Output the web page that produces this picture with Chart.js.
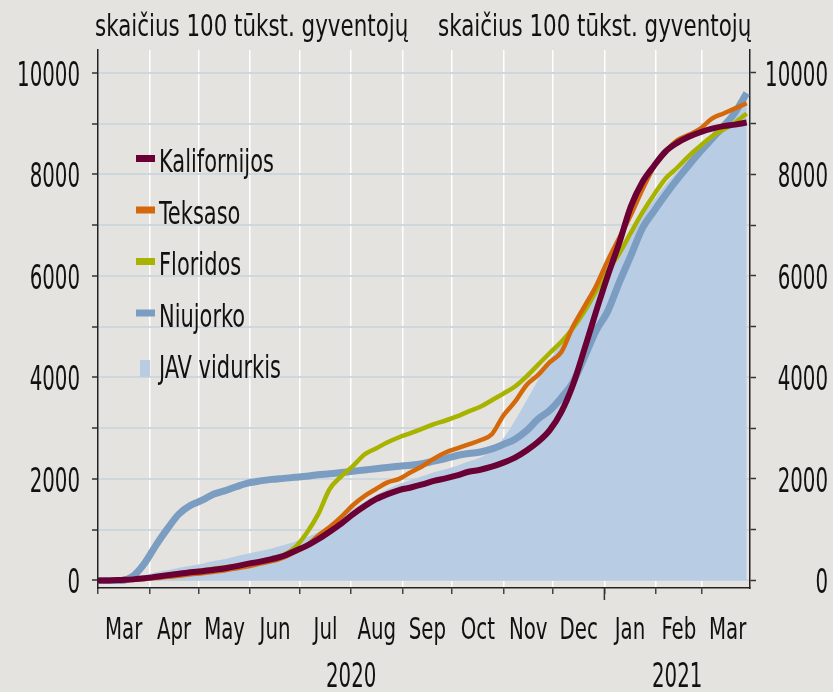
<!DOCTYPE html>
<html>
<head>
<meta charset="utf-8">
<script src="https://cdn.jsdelivr.net/npm/chart.js@4.4.1/dist/chart.umd.min.js"></script>
<style>
  body { margin: 0; background: #e4e3df; }
  canvas { display: block; }
</style>
</head>
<body>
<canvas id="chart" width="833" height="692"></canvas>
<script>
// days since 1 March 2020
const dienos = [0, 7, 14, 21, 28, 35, 42, 49, 56, 63, 70, 77, 84, 91, 98, 105, 112, 119, 126, 133,
  140, 147, 154, 161, 168, 175, 182, 189, 196, 203, 210, 217, 224, 231, 238, 245, 252, 259, 266, 273,
  280, 287, 294, 301, 308, 315, 322, 329, 336, 343, 350, 357, 364, 371, 378, 385, 392];

const kalifornijos = [0, 0, 10, 20, 40, 70, 100, 130, 160, 180, 210, 240, 280, 330, 370, 420, 480, 580, 680, 810,
  960, 1120, 1300, 1460, 1600, 1700, 1780, 1830, 1890, 1960, 2010, 2070, 2140, 2180, 2240, 2320, 2420, 2560, 2730, 2960,
  3320, 3850, 4560, 5300, 6000, 6650, 7370, 7850, 8170, 8450, 8620, 8740, 8830, 8900, 8950, 8980, 9020];
const teksaso = [0, 0, 0, 10, 25, 45, 70, 90, 120, 140, 170, 200, 240, 280, 330, 380, 450, 560, 680, 880,
  1050, 1250, 1480, 1660, 1800, 1930, 2000, 2130, 2250, 2400, 2520, 2600, 2680, 2760, 2880, 3250, 3520, 3850, 4050, 4300,
  4500, 5000, 5400, 5800, 6300, 6750, 7200, 7700, 8150, 8450, 8670, 8780, 8900, 9100, 9200, 9300, 9400];
const floridos = [0, 0, 0, 20, 40, 70, 110, 140, 170, 200, 230, 260, 290, 330, 380, 430, 500, 650, 930, 1300,
  1800, 2050, 2250, 2480, 2600, 2720, 2820, 2900, 2990, 3080, 3150, 3230, 3330, 3420, 3550, 3680, 3820, 4020, 4250, 4480,
  4700, 4970, 5300, 5700, 6100, 6440, 6850, 7250, 7600, 7920, 8130, 8360, 8560, 8750, 8880, 9020, 9200];
const niujorko = [0, 0, 0, 80, 330, 690, 1020, 1310, 1480, 1580, 1700, 1770, 1850, 1920, 1960, 1990, 2010, 2030, 2050, 2080,
  2100, 2125, 2150, 2175, 2200, 2225, 2250, 2270, 2300, 2350, 2400, 2460, 2500, 2530, 2590, 2680, 2780, 2950, 3180, 3350,
  3600, 3900, 4400, 4920, 5300, 5870, 6400, 6940, 7280, 7600, 7900, 8180, 8450, 8700, 8950, 9220, 9600];
const javVidurkis = [0, 0, 0, 40, 100, 160, 200, 250, 290, 330, 380, 420, 480, 530, 580, 630, 690, 760, 850, 950,
  1080, 1250, 1400, 1550, 1680, 1800, 1900, 1980, 2050, 2130, 2190, 2260, 2340, 2420, 2560, 2800, 3150, 3550, 3950, 4350,
  4650, 4950, 5350, 5800, 6150, 6500, 6850, 7200, 7500, 7800, 8050, 8300, 8550, 8800, 9050, 9300, 9550];

const menesiai = ['Mar', 'Apr', 'May', 'Jun', 'Jul', 'Aug', 'Sep', 'Oct', 'Nov', 'Dec', 'Jan', 'Feb', 'Mar'];
const menesiuPradzios = [0, 31, 61, 92, 122, 153, 184, 214, 245, 275, 306, 337, 365];
const menesiuPabaiga = 396;
const metai = ['2020', '2021'];
const metuRibos = [0, 306, 394];
const yZymes = [0, 2000, 4000, 6000, 8000, 10000];
const yTinklas = [0, 1000, 2000, 3000, 4000, 5000, 6000, 7000, 8000, 9000, 10000];
const antraste = 'skaičius 100 tūkst. gyventojų';

const SRIFTAS = '"DejaVu Sans Condensed", "DejaVu Sans", sans-serif';

// text is drawn taller than wide, like in the original
function tekstas(ctx, s, x, y, dydis, sy, lyg) {
  ctx.save();
  ctx.font = dydis + 'px ' + SRIFTAS;
  ctx.textAlign = lyg;
  ctx.textBaseline = 'alphabetic';
  ctx.translate(x, y);
  ctx.scale(1, sy);
  ctx.fillText(s, 0, 0);
  ctx.restore();
}

const tekstai = {
  id: 'tekstai',
  beforeDraw(chart) {
    const c = chart.ctx;
    c.save();
    c.fillStyle = '#e4e3df';
    c.fillRect(0, 0, chart.width, chart.height);
    c.restore();
  },
  afterDraw(chart) {
    const c = chart.ctx, x = chart.scales.x, y = chart.scales.y, a = chart.chartArea;
    c.save();
    c.fillStyle = '#111';
    tekstas(c, antraste, 95, 36, 23.8, 1.25, 'left');
    tekstas(c, antraste, 438, 36, 23.8, 1.25, 'left');

    yZymes.forEach(v => {
      const py = y.getPixelForValue(v) + 13;
      tekstas(c, String(v), 80, py, 22, 1.5, 'right');
      tekstas(c, String(v), 828, py, 22, 1.5, 'right');
    });

    menesiai.forEach((m, i) => {
      const nuo = menesiuPradzios[i];
      const iki = i + 1 < menesiuPradzios.length ? menesiuPradzios[i + 1] : menesiuPabaiga;
      tekstas(c, m, x.getPixelForValue((nuo + iki) / 2), 639, 22, 1.4, 'center');
    });
    metai.forEach((m, i) => {
      tekstas(c, m, x.getPixelForValue((metuRibos[i] + metuRibos[i + 1]) / 2), 687, 22, 1.55, 'center');
    });

    // longer tick at the new year
    const px = x.getPixelForValue(metuRibos[1]);
    c.strokeStyle = '#333';
    c.lineWidth = 1.5;
    c.beginPath();
    c.moveTo(px, a.bottom);
    c.lineTo(px, a.bottom + 12);
    c.stroke();

    // legend
    chart.data.datasets.forEach((ds, i) => {
      const by = 172 + i * 51.5;
      if (ds.fill) {
        c.fillStyle = ds.backgroundColor;
        c.fillRect(140, by - 18, 10, 17);
      } else {
        c.fillStyle = ds.borderColor;
        c.fillRect(136, by - 17, 19, 7);
      }
      c.fillStyle = '#111';
      tekstas(c, ds.label, 159, by, 23.3, 1.37, 'left');
    });
    c.restore();
  }
};

const seka = vals => dienos.map((d, i) => ({ x: d, y: vals[i] }));
const yTikai = s => { s.ticks = yTinklas.map(v => ({ value: v })); };

new Chart(document.getElementById('chart'), {
  type: 'line',
  data: {
    datasets: [
      { label: 'Kalifornijos', data: seka(kalifornijos), borderColor: '#6a0034', borderWidth: 6 },
      { label: 'Teksaso', data: seka(teksaso), borderColor: '#d4690c', borderWidth: 4.5 },
      { label: 'Floridos', data: seka(floridos), borderColor: '#a8b300', borderWidth: 4.5 },
      { label: 'Niujorko', data: seka(niujorko), borderColor: '#7b9dc1', borderWidth: 7 },
      { label: 'JAV vidurkis', data: seka(javVidurkis), borderWidth: 0, backgroundColor: '#b8cce4', fill: 'origin' }
    ]
  },
  options: {
    responsive: false,
    animation: false,
    devicePixelRatio: 1,
    layout: { padding: { top: 50 } },
    elements: {
      point: { radius: 0 },
      line: { cubicInterpolationMode: 'monotone', borderCapStyle: 'butt' }
    },
    plugins: { legend: { display: false }, tooltip: { enabled: false } },
    scales: {
      x: {
        type: 'linear', min: 0, max: 394,
        afterBuildTicks: s => { s.ticks = menesiuPradzios.map(v => ({ value: v })); },
        afterFit: s => { s.height = 104; },
        ticks: { display: false },
        grid: {
          color: c => (c.tick && c.tick.value === 0 ? 'rgba(0,0,0,0)' : '#ffffff'),
          lineWidth: 1.5, tickColor: '#444', tickWidth: 1.5, tickLength: 6
        },
        border: { color: '#222', width: 1.5 }
      },
      y: {
        position: 'left', min: -150, max: 10450,
        afterBuildTicks: yTikai,
        afterFit: s => { s.width = 98; },
        ticks: { display: false },
        grid: { color: '#cdd7de', lineWidth: 2, tickColor: '#333', tickWidth: 1.5, tickLength: 6 },
        border: { color: '#222', width: 1.5 }
      },
      y2: {
        position: 'right', min: -150, max: 10450,
        afterBuildTicks: yTikai,
        afterFit: s => { s.width = 83; },
        ticks: { display: false },
        grid: { drawOnChartArea: false, tickColor: '#333', tickWidth: 1.5, tickLength: 6 },
        border: { color: '#222', width: 1.5 }
      }
    }
  },
  plugins: [tekstai]
});
</script>
</body>
</html>
